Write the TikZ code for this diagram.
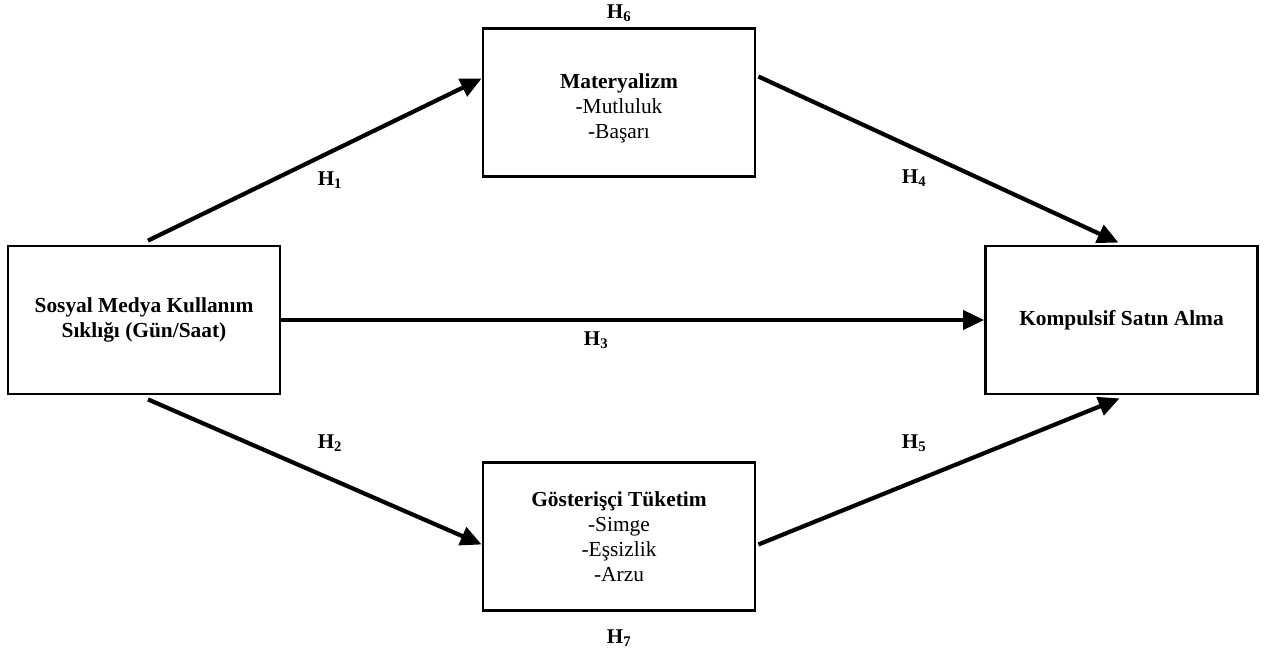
\documentclass[tikz,border=0pt]{standalone}
\usepackage{fontspec}
\setmainfont{Liberation Serif}
\usetikzlibrary{positioning,arrows.meta}

\begin{document}
\begin{tikzpicture}
            [
                x=1pt, y=-1pt,
                kutu/.style={rectangle, draw, line width=2.8pt, minimum width=272pt, minimum height=148pt, align=center, font=\fontsize{21.4}{24.8}\selectfont},
                ok/.style={line width=4.2pt, -{Triangle[length=21pt,width=19pt]}},
                hipotez/.style={font=\fontsize{21}{24}\selectfont\bfseries},
            ]
            \useasboundingbox (0,0) rectangle (1273,655);
            %kutular
            \node[kutu] (sosyal) at (144,320) {\textbf{Sosyal Medya Kullanım}\\\textbf{Sıklığı (Gün/Saat)}};
            \node[kutu] (mat) at (619,102.5) {\rule{0pt}{27pt}\textbf{Materyalizm}\\-Mutluluk\\-Başarı};
            \node[kutu] (gos) at (619,536.5) {\textbf{Gösterişçi Tüketim}\\-Simge\\-Eşsizlik\\-Arzu};
            \node[kutu] (komp) at (1121.5,320) {\textbf{Kompulsif Satın Alma}};
            %oklar
            \draw[ok] ([xshift=4pt,yshift=4pt]sosyal.north) -- ([yshift=24pt]mat.west);
            \draw[ok] ([xshift=4pt,yshift=-4pt]sosyal.south) -- ([yshift=-8pt]gos.west);
            \draw[ok] (sosyal.east) -- (komp.west);
            \draw[ok] ([xshift=2pt,yshift=26pt]mat.east) -- ([xshift=-3pt,yshift=2pt]komp.north);
            \draw[ok] ([xshift=2pt,yshift=-8pt]gos.east) -- ([xshift=-2pt,yshift=-3pt]komp.south);
            %etiketler
            \node[hipotez] (h1) at (330,180) {H\textsubscript{1}};
            \node[hipotez] (h2) at (330,443) {H\textsubscript{2}};
            \node[hipotez] (h3) at (596,340) {H\textsubscript{3}};
            \node[hipotez] (h4) at (914,178) {H\textsubscript{4}};
            \node[hipotez] (h5) at (914,443) {H\textsubscript{5}};
            \node[hipotez] (h6) [above=2pt of mat] {H\textsubscript{6}};
            \node[hipotez] (h7) [below=14pt of gos] {H\textsubscript{7}};
        \end{tikzpicture}
\end{document}
